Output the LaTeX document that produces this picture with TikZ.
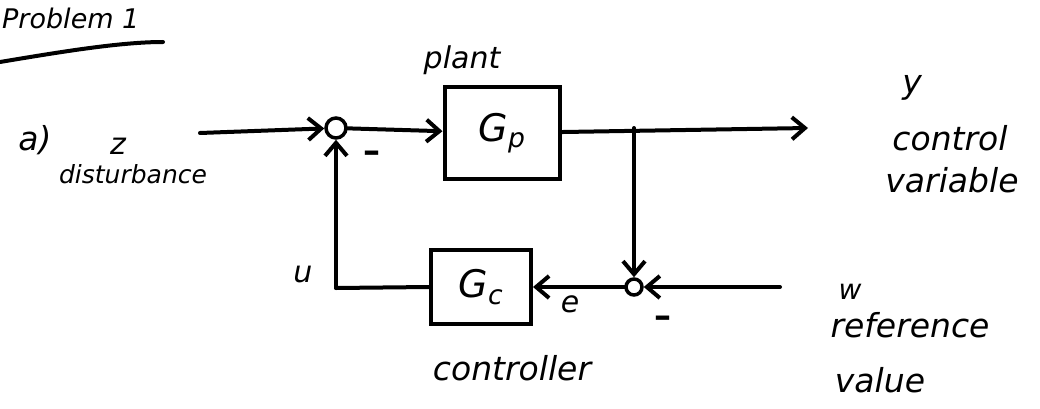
\documentclass[tikz,border=0pt]{standalone}
\usepackage{fontspec}
\setmainfont{DejaVu Sans}
\usetikzlibrary{arrows.meta}
\tikzset{
  hand/.style={line width=4pt, line cap=round, line join=round},
  arr/.style={hand, -{Straight Barb[length=13pt,width=22pt,line width=4pt]}},
  blk/.style={draw, line width=4pt, minimum width=#1, inner sep=0pt},
  sumc/.style={draw, circle, line width=3.5pt, minimum size=#1, inner sep=0pt},
  lbl/.style={font=\itshape\fontsize{26}{28}\selectfont, inner sep=0pt},
  big/.style={font=\itshape\fontsize{33}{36}\selectfont, inner sep=0pt},
  gl/.style={font=\itshape\fontsize{38}{40}\selectfont},
  minus/.style={font=\bfseries\fontsize{34}{34}\selectfont, inner sep=0pt}
}
\begin{document}
\begin{tikzpicture}[x=1pt,y=-1pt]
\clip (0,0) rectangle (1040,409);
\fill[white] (0,0) rectangle (1040,409);
% title
\node[font=\itshape\fontsize{27}{29}\selectfont, inner sep=0pt, anchor=west] (title) at (2,18) {Problem 1};
\draw[hand] (0,62) .. controls (60,52) and (120,42) .. (163,42);
\node[big] (a) at (35,140) {a)};
% blocks
\node[blk=115pt, minimum height=92pt, gl] (gp) at (502,133) {G\textsubscript{p}};
\node[blk=100pt, minimum height=74pt, gl] (gc) at (481,287) {G\textsubscript{c}};
\node[sumc=20pt] (s1) at (336,128) {};
\node[sumc=16pt] (s2) at (634,287) {};
% coordinates
\coordinate (zin) at (200,133);
\coordinate (yout) at (808,128);
\coordinate (br) at (634,128);
\coordinate (win) at (780,287);
\coordinate (uc) at (336,288);
% connectors
\draw[arr] (zin) -- (s1);
\draw[arr] (s1) -- (gp);
\draw[arr] (gp) -- (yout);
\draw[arr] (br) -- (s2);
\draw[arr] (win) -- (s2);
\draw[arr] (s2) -- (gc);
\draw[hand] (gc.west) -- (uc);
\draw[arr] (uc) -- (s1);
% labels
\node[lbl, font=\itshape\fontsize{30}{32}\selectfont] (plant) at (462,60) {plant};
\node[lbl, font=\itshape\fontsize{30}{32}\selectfont] (z) at (118,146) {z};
\node[lbl, font=\itshape\fontsize{25}{27}\selectfont] (dist) at (133,174) {disturbance};
\node[minus] (m1) at (372,157) {–};
\node[big] (y) at (912,88) {y};
\node[big] (ctrl) at (950,138) {control};
\node[big] (var) at (952,180) {variable};
\node[lbl, font=\itshape\fontsize{30}{32}\selectfont] (u) at (303,275) {u};
\node[lbl, font=\itshape\fontsize{30}{32}\selectfont] (e) at (570,304) {e};
\node[minus] (m2) at (663,322) {–};
\node[lbl, font=\itshape\fontsize{28}{30}\selectfont] (w) at (850,292) {w};
\node[big] (ref) at (910,325) {reference};
\node[big] (val) at (880,380) {value};
\node[big] (contr) at (512,368) {controller};
\end{tikzpicture}
\end{document}
